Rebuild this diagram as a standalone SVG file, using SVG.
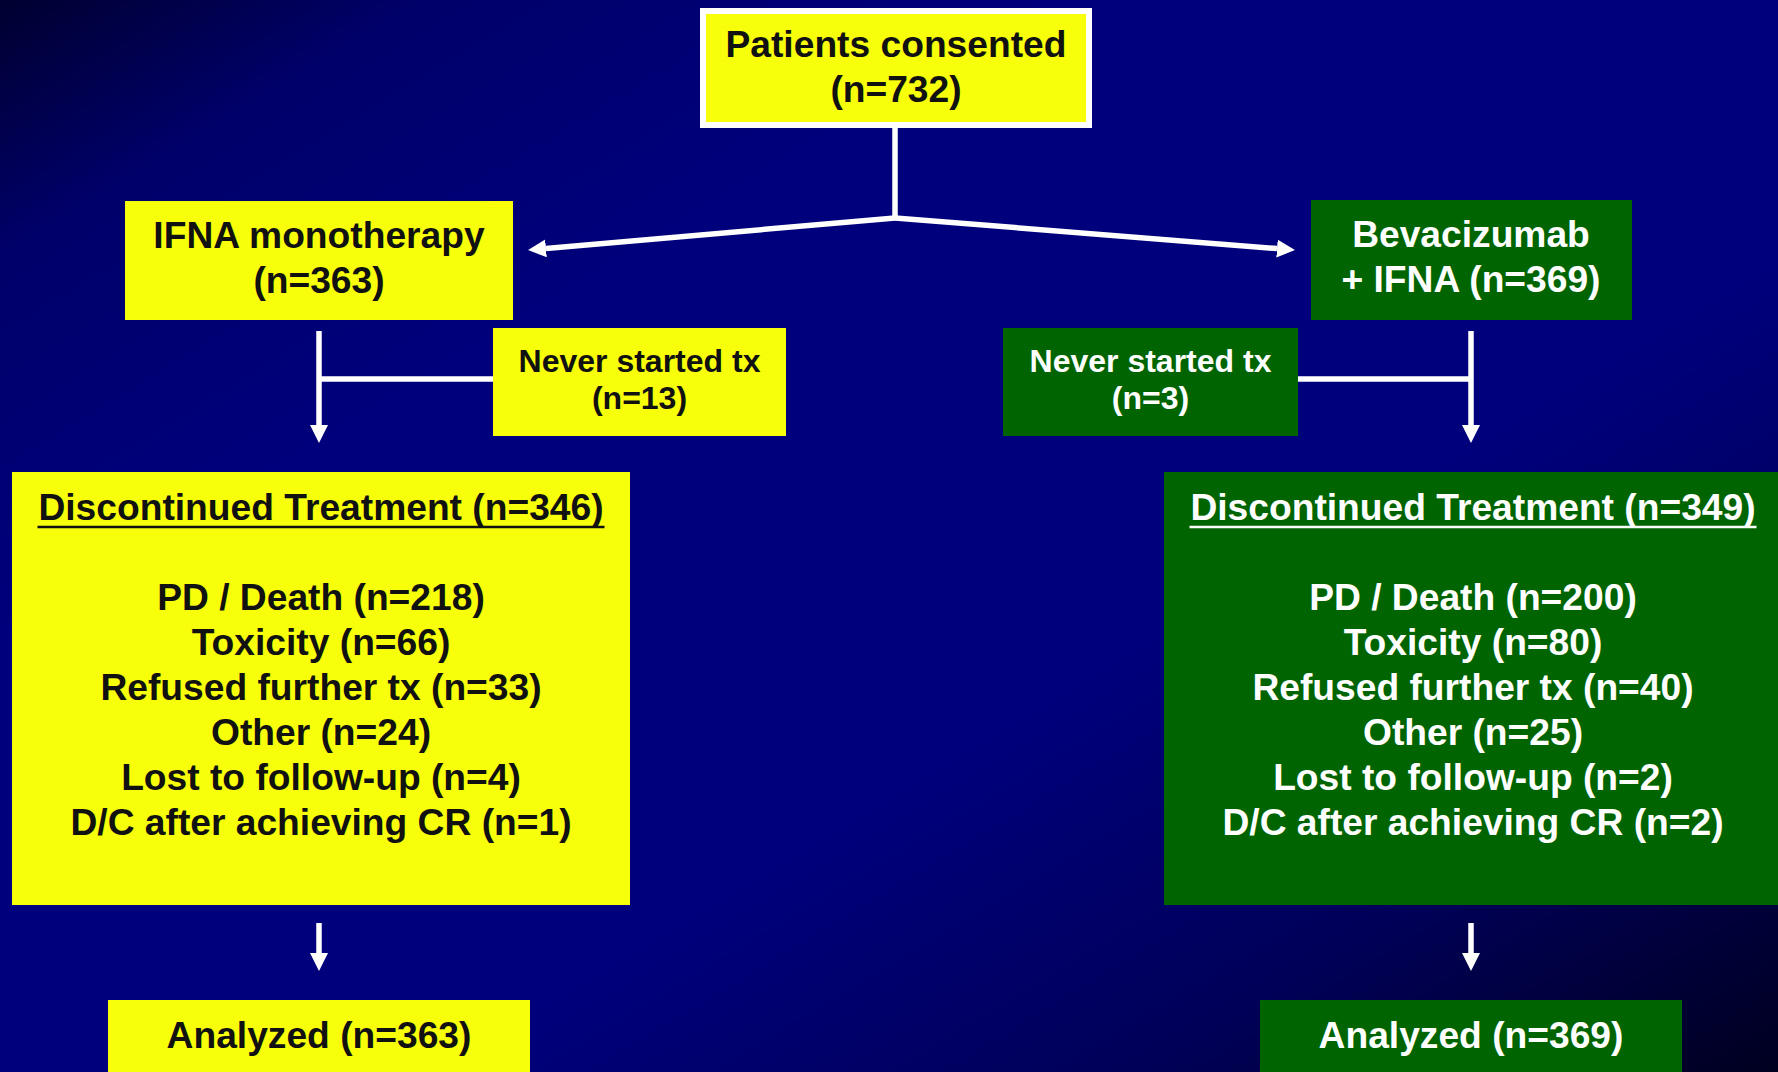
<svg xmlns="http://www.w3.org/2000/svg" width="1778" height="1072" viewBox="0 0 1778 1072">
  <defs>
    <linearGradient id="bg" x1="0" y1="0" x2="1" y2="1">
      <stop offset="0" stop-color="#000030"/>
      <stop offset="0.12" stop-color="#00006a"/>
      <stop offset="0.3" stop-color="#00007c"/>
      <stop offset="0.62" stop-color="#00007c"/>
      <stop offset="0.82" stop-color="#000058"/>
      <stop offset="1" stop-color="#000020"/>
    </linearGradient>
    <marker id="ah" markerUnits="userSpaceOnUse" markerWidth="18" markerHeight="18" viewBox="0 0 18 18" refX="0" refY="9" orient="auto">
      <path d="M0,0 L18,9 L0,18 Z" fill="#ffffff"/>
    </marker>
    <style>
      .yel { fill: #f7ff0a; }
      .grn { fill: #006400; }
      .t { font-family: "Liberation Sans", Arial, Helvetica, sans-serif; font-weight: bold; text-anchor: middle; }
      .big { font-size: 37.2px; }
      .small { font-size: 32px; }
      .dark { fill: #111111; }
      .light { fill: #ffffff; }
      .conn { stroke: #ffffff; stroke-width: 5.5; fill: none; }
      .rule { stroke-width: 2.5; }
    </style>
  </defs>

  <rect x="0" y="0" width="1778" height="1072" fill="url(#bg)"/>

  <g id="connectors">
    <path class="conn" d="M895,128 V218"/>
    <line class="conn" x1="895" y1="218" x2="546" y2="248.4" marker-end="url(#ah)"/>
    <line class="conn" x1="895" y1="218" x2="1277" y2="248.6" marker-end="url(#ah)"/>
    <line class="conn" x1="319" y1="331" x2="319" y2="425" marker-end="url(#ah)"/>
    <line class="conn" x1="319" y1="379" x2="493" y2="379"/>
    <line class="conn" x1="1471" y1="331" x2="1471" y2="425" marker-end="url(#ah)"/>
    <line class="conn" x1="1298" y1="379" x2="1471" y2="379"/>
    <line class="conn" x1="319" y1="923" x2="319" y2="953" marker-end="url(#ah)"/>
    <line class="conn" x1="1471" y1="923" x2="1471" y2="953" marker-end="url(#ah)"/>
  </g>

  <g id="consented">
    <rect class="yel" x="703" y="11" width="386" height="114" stroke="#ffffff" stroke-width="6"/>
    <text class="t big dark" x="896" y="57">Patients consented</text>
    <text class="t big dark" x="896" y="102">(n=732)</text>
  </g>

  <g id="ifna-arm">
    <rect class="yel" x="125" y="201" width="388" height="119"/>
    <text class="t big dark" x="319" y="248">IFNA monotherapy</text>
    <text class="t big dark" x="319" y="293">(n=363)</text>
  </g>

  <g id="bev-arm">
    <rect class="grn" x="1311" y="200" width="321" height="120"/>
    <text class="t big light" x="1471" y="247">Bevacizumab</text>
    <text class="t big light" x="1471" y="292">+ IFNA (n=369)</text>
  </g>

  <g id="ifna-never-started">
    <rect class="yel" x="493" y="328" width="293" height="108"/>
    <text class="t small dark" x="639.5" y="372">Never started tx</text>
    <text class="t small dark" x="639.5" y="409">(n=13)</text>
  </g>

  <g id="bev-never-started">
    <rect class="grn" x="1003" y="328" width="295" height="108"/>
    <text class="t small light" x="1150.5" y="372">Never started tx</text>
    <text class="t small light" x="1150.5" y="409">(n=3)</text>
  </g>

  <g id="ifna-discontinued">
    <rect class="yel" x="12" y="472" width="618" height="433"/>
    <text class="t big dark" x="321" y="520">Discontinued Treatment (n=346)</text>
    <line class="rule" x1="37.5" y1="527" x2="604.5" y2="527" stroke="#111111"/>
    <text class="t big dark" x="321" y="610">PD / Death (n=218)</text>
    <text class="t big dark" x="321" y="655">Toxicity (n=66)</text>
    <text class="t big dark" x="321" y="700">Refused further tx (n=33)</text>
    <text class="t big dark" x="321" y="745">Other (n=24)</text>
    <text class="t big dark" x="321" y="790">Lost to follow-up (n=4)</text>
    <text class="t big dark" x="321" y="835">D/C after achieving CR (n=1)</text>
  </g>

  <g id="bev-discontinued">
    <rect class="grn" x="1164" y="472" width="618" height="433"/>
    <text class="t big light" x="1473" y="520">Discontinued Treatment (n=349)</text>
    <line class="rule" x1="1189.5" y1="527" x2="1756.5" y2="527" stroke="#ffffff"/>
    <text class="t big light" x="1473" y="610">PD / Death (n=200)</text>
    <text class="t big light" x="1473" y="655">Toxicity (n=80)</text>
    <text class="t big light" x="1473" y="700">Refused further tx (n=40)</text>
    <text class="t big light" x="1473" y="745">Other (n=25)</text>
    <text class="t big light" x="1473" y="790">Lost to follow-up (n=2)</text>
    <text class="t big light" x="1473" y="835">D/C after achieving CR (n=2)</text>
  </g>

  <g id="ifna-analyzed">
    <rect class="yel" x="108" y="1000" width="422" height="80"/>
    <text class="t big dark" x="319" y="1048">Analyzed (n=363)</text>
  </g>

  <g id="bev-analyzed">
    <rect class="grn" x="1260" y="1000" width="422" height="80"/>
    <text class="t big light" x="1471" y="1048">Analyzed (n=369)</text>
  </g>
</svg>
